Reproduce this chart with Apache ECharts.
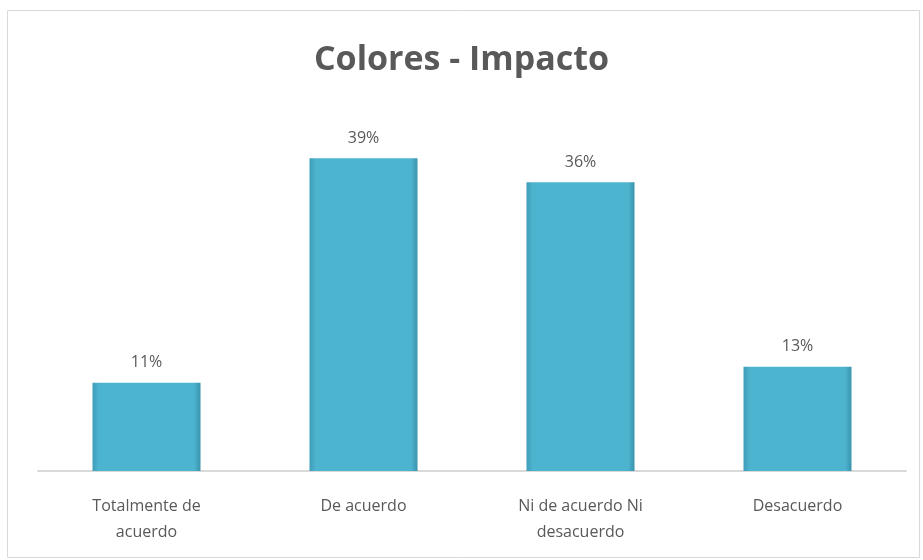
<!DOCTYPE html>
<html><head><meta charset="utf-8">
<script src="https://cdn.jsdelivr.net/npm/echarts@6/dist/echarts.min.js"></script>
<style>html,body{margin:0;padding:0;background:#fff}#c{width:923px;height:560px}</style>
</head><body><div id="c"></div>
<script>
const categories = ['Totalmente de\nacuerdo', 'De acuerdo', 'Ni de acuerdo Ni\ndesacuerdo', 'Desacuerdo'];
const values = [11, 39, 36, 13];
const titleText = 'Colores - Impacto';

const chart = echarts.init(document.getElementById('c'));
chart.setOption({
  backgroundColor: '#fff',
  animation: false,
  graphic: [{
    type: 'rect', shape: { x: 7.5, y: 10.5, width: 912, height: 547 },
    style: { fill: 'none', stroke: '#d9d9d9', lineWidth: 1 }, silent: true
  }],
  title: {
    text: titleText, left: 'center', top: 38,
    textStyle: { fontFamily: 'Open Sans', fontWeight: 'bold', fontSize: 34, color: '#595959' }
  },
  grid: { left: 38, right: 17, top: 110, bottom: 89, containLabel: false },
  xAxis: {
    type: 'category', data: categories,
    axisLine: { lineStyle: { color: '#d9d9d9', width: 2 } },
    axisTick: { show: false },
    axisLabel: { color: '#595959', fontFamily: 'Open Sans', fontSize: 16, lineHeight: 26, margin: 22, interval: 0 }
  },
  yAxis: { type: 'value', min: 0, max: 45, show: false, splitLine: { show: false } },
  series: [{
    type: 'bar', data: values, barWidth: 108,
    itemStyle: {
      color: new echarts.graphic.LinearGradient(0, 0, 1, 0, [
        { offset: 0, color: '#3f9db8' },
        { offset: 0.06, color: '#4db4d0' },
        { offset: 0.94, color: '#4db4d0' },
        { offset: 1, color: '#3a93ad' }
      ])
    },
    label: {
      show: true, position: 'top', distance: 12, formatter: '{c}%',
      color: '#595959', fontFamily: 'Open Sans', fontSize: 16
    }
  }]
});
</script></body></html>
